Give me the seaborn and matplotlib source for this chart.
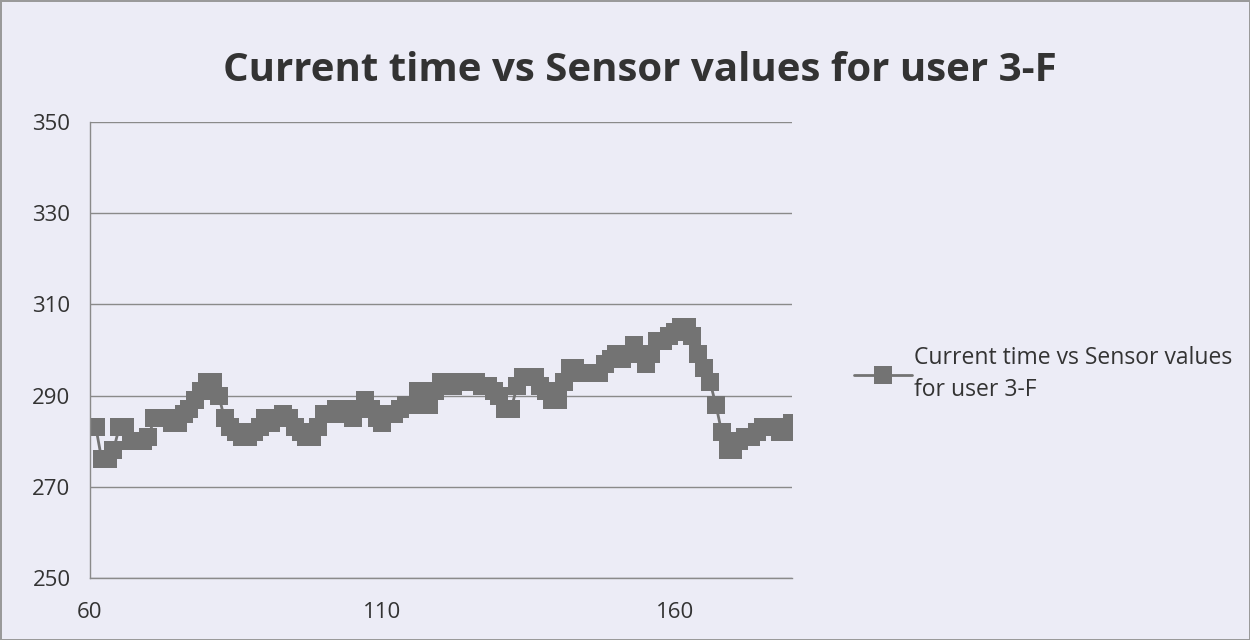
import matplotlib
matplotlib.use("Agg")
import matplotlib.pyplot as plt
import pandas as pd
import seaborn as sns

# time stamps (one reading per second) and sensor readings
times = list(range(61, 181))
sensor_values = [
    283, 276, 276, 278, 283, 283, 280, 280, 280, 281,
    285, 285, 285, 284, 284, 286, 287, 289, 291, 293,
    293, 290, 285, 283, 282, 281, 281, 282, 283, 285,
    284, 285, 286, 285, 283, 282, 281, 281, 283, 286,
    286, 287, 287, 286, 285, 287, 289, 287, 285, 284,
    286, 286, 287, 288, 288, 291, 290, 288, 291, 293,
    293, 292, 293, 293, 293, 293, 292, 292, 291, 290,
    287, 287, 292, 294, 294, 294, 292, 291, 289, 289,
    293, 296, 296, 295, 295, 295, 295, 297, 298, 299,
    298, 299, 301, 299, 297, 299, 302, 302, 303, 304,
    305, 305, 303, 299, 296, 293, 288, 282, 278, 278,
    280, 281, 281, 282, 283, 283, 283, 282, 282, 284,
]
series_name = "Current time vs Sensor values for user 3-F"
y_ticks = [250, 270, 290, 310, 330, 350]
x_ticks = [60, 110, 160]

df = pd.DataFrame({"time": times, "value": sensor_values})

bg = "#ECECF6"
text_col = "#333333"
grid_col = "#8a8a8a"
mark_col = "#737373"

sns.set_style("white")
plt.rcParams["font.family"] = ["Open Sans", "DejaVu Sans"]

fig = plt.figure(figsize=(12.5, 6.4), dpi=100)
fig.patch.set_facecolor(bg)
fig.patch.set_edgecolor("#9a9a9a")
fig.patch.set_linewidth(2)

ax = fig.add_axes([0.072, 0.097, 0.5615, 0.7125])
ax.set_facecolor(bg)

sns.lineplot(data=df, x="time", y="value", ax=ax, color=mark_col,
             marker="s", markersize=13.5, markeredgewidth=0,
             linewidth=2, label=series_name)

ax.set_xlim(60, 180)
ax.set_ylim(250, 350)
ax.set_xticks(x_ticks)
ax.set_yticks(y_ticks)
ax.yaxis.grid(True, color=grid_col, linewidth=1)
ax.xaxis.grid(False)
ax.set_axisbelow(True)

for side in ["top", "right"]:
    ax.spines[side].set_visible(False)
for side in ["left", "bottom"]:
    ax.spines[side].set_color(grid_col)
    ax.spines[side].set_linewidth(1)

ax.tick_params(axis="both", direction="out", length=6, width=1,
               color=grid_col, labelcolor=text_col, labelsize=16)
ax.tick_params(axis="y", pad=8)
ax.tick_params(axis="x", pad=11)
ax.set_xlabel("")
ax.set_ylabel("")

fig.text(0.512, 0.89, "Current time vs Sensor values for user 3-F",
         ha="center", va="center", fontsize=29, fontweight="bold",
         color=text_col)

handles, labels = ax.get_legend_handles_labels()
leg = ax.legend(handles, ["Current time vs Sensor values\nfor user 3-F"],
                loc="center left", bbox_to_anchor=(0.667, 0.415),
                bbox_transform=fig.transFigure, frameon=False,
                fontsize=16.5, handlelength=2.5, handletextpad=0.1,
                labelcolor=text_col, markerscale=1.0)
for t in leg.get_texts():
    t.set_linespacing(1.45)

fig.savefig("out.png", dpi=100, facecolor=fig.get_facecolor(),
            edgecolor=fig.get_edgecolor())
